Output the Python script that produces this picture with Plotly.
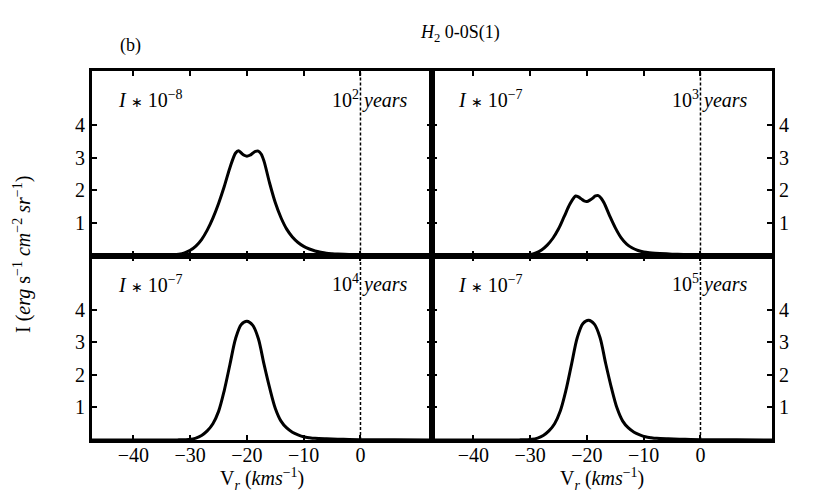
import plotly.graph_objects as go
from plotly.subplots import make_subplots

# ---- data ----
V_1E2 = [-47.3, -35, -34, -33, -32, -31, -30, -29, -28, -27, -26, -25, -24, -23, -22, -21.5, -21,
         -20.5, -20, -19.5, -19, -18.5, -18, -17.5, -17, -16, -15, -14, -13, -12, -11, -10, -9,
         -8, -7, -6, -5, -4, -2, 0, 4, 8, 12.6]
I_1E2 = [0, 0, 0.01, 0.02, 0.04, 0.08, 0.16, 0.29, 0.49, 0.78, 1.15, 1.6, 2.12, 2.7, 3.15, 3.22, 3.15,
         3.08, 3.05, 3.08, 3.14, 3.2, 3.21, 3.12, 2.9, 2.22, 1.62, 1.16, 0.81, 0.57, 0.4, 0.28, 0.2,
         0.14, 0.1, 0.07, 0.055, 0.045, 0.03, 0.02, 0.01, 0.005, 0]

V_1E3 = [-47.3, -33, -32, -31, -30, -29, -28, -27, -26, -25, -24, -23, -22, -21.5, -21, -20.5, -20,
         -19.5, -19, -18.5, -18, -17.5, -17, -16, -15, -14, -13, -12, -11, -10, -9, -8, -6, -4, -2,
         0, 4, 8, 12.6]
I_1E3 = [0, 0, 0.005, 0.015, 0.03, 0.08, 0.17, 0.32, 0.53, 0.82, 1.2, 1.58, 1.83, 1.8, 1.74, 1.68, 1.66,
         1.7, 1.76, 1.83, 1.84, 1.76, 1.62, 1.22, 0.85, 0.55, 0.35, 0.23, 0.155, 0.11, 0.085, 0.07, 0.05,
         0.035, 0.025, 0.02, 0.01, 0.005, 0]

V_1E4 = [-47.3, -33, -32, -31, -30, -29, -28, -27, -26, -25, -24, -23, -22, -21, -20, -19, -18, -17,
         -16, -15, -14, -13, -12, -11, -10, -9, -8, -6, -4, -2, 0, 6, 12.6]
I_1E4 = [0, 0, 0.005, 0.01, 0.02, 0.06, 0.14, 0.28, 0.5, 0.88, 1.52, 2.32, 3.12, 3.55, 3.65, 3.53, 3.12,
         2.33, 1.6, 0.97, 0.58, 0.37, 0.24, 0.16, 0.1, 0.07, 0.05, 0.035, 0.025, 0.015, 0.01, 0.005, 0]

V_1E5 = [-47.3, -32.7, -31.7, -30.7, -29.7, -28.7, -27.7, -26.7, -25.7, -24.7, -23.7, -22.7, -21.7,
         -20.7, -19.7, -18.7, -17.7, -16.7, -15.7, -14.7, -13.7, -12.7, -11.7, -10.7, -9.7, -8.7,
         -7.7, -5.7, -3.7, -1.7, 0.3, 6.3, 12.6]
I_1E5 = [0, 0, 0.005, 0.01, 0.02, 0.06, 0.14, 0.28, 0.5, 0.89, 1.53, 2.34, 3.15, 3.58, 3.68, 3.56, 3.15,
         2.35, 1.61, 0.98, 0.58, 0.37, 0.24, 0.16, 0.1, 0.07, 0.05, 0.035, 0.025, 0.015, 0.01, 0.005, 0]

AST = "<span style='font-size:14px'>∗</span>"
SCALE_LABELS = ["<i>I</i> " + AST + " 10<sup>−8</sup>", "<i>I</i> " + AST + " 10<sup>−7</sup>",
                "<i>I</i> " + AST + " 10<sup>−7</sup>", "<i>I</i> " + AST + " 10<sup>−7</sup>"]
AGE_LABELS = ["10<sup>2</sup> <i>years</i>", "10<sup>3</sup> <i>years</i>",
              "10<sup>4</sup> <i>years</i>", "10<sup>5</sup> <i>years</i>"]
X_TITLE = "V<sub><i>r</i></sub> (<i>kms</i><sup>−1</sup>)"
Y_TITLE = "I (<i>erg</i> s<sup>−1</sup> <i>cm</i><sup>−2</sup> <i>sr</i><sup>−1</sup>)"
X_TICKS = [-40, -30, -20, -10, 0]
Y_TICKS = [1, 2, 3, 4]
X_RANGE = [-47.3, 12.6]
Y_RANGE = [0, 5.67]
REF_V = 0

SERIES = [(V_1E2, I_1E2), (V_1E3, I_1E3), (V_1E4, I_1E4), (V_1E5, I_1E5)]
CELLS = [(1, 1), (1, 2), (2, 1), (2, 2)]

FONT = "Liberation Serif"
L, R, T, B = 92, 45, 71, 55
W, H = 817, 495
pw, ph = W - L - R, H - T - B


def px(x):
    return (x - L) / pw


def py(y):
    return 1 - (y - T) / ph


fig = make_subplots(rows=2, cols=2, horizontal_spacing=0, vertical_spacing=0)

for k, ((v, inten), (r, c)) in enumerate(zip(SERIES, CELLS)):
    fig.add_trace(go.Scatter(x=v, y=inten, mode="lines",
                             line=dict(color="black", width=3, shape="spline", smoothing=0.9),
                             showlegend=False, hoverinfo="skip"), row=r, col=c)
    fig.add_trace(go.Scatter(x=[REF_V, REF_V], y=Y_RANGE, mode="lines",
                             line=dict(color="black", width=1.5, dash="3px,2px"),
                             showlegend=False, hoverinfo="skip"), row=r, col=c)
    fig.add_annotation(text=SCALE_LABELS[k], x=-43.0, y=4.8, xanchor="left", yanchor="middle",
                       showarrow=False, font=dict(family=FONT, size=20, color="black"), row=r, col=c)
    fig.add_annotation(text=AGE_LABELS[k], x=8.7, y=4.8, xanchor="right", yanchor="middle",
                       showarrow=False, font=dict(family=FONT, size=20, color="black"), row=r, col=c)
    fig.update_xaxes(range=X_RANGE, tickvals=X_TICKS, ticks="inside", ticklen=5, tickwidth=1.5,
                     tickcolor="black", showline=True, linewidth=3, linecolor="black",
                     mirror="allticks", showgrid=False, zeroline=False, automargin=False,
                     ticklabelstandoff=-5,
                     showticklabels=(r == 2), tickfont=dict(family=FONT, size=20, color="black"),
                     row=r, col=c)
    fig.update_yaxes(range=Y_RANGE, tickvals=Y_TICKS, ticks="inside", ticklen=5, tickwidth=1.5,
                     tickcolor="black", showline=True, linewidth=3, linecolor="black",
                     mirror="allticks", showgrid=False, zeroline=False, automargin=False,
                     side=("left" if c == 1 else "right"),
                     tickfont=dict(family=FONT, size=20, color="black"), row=r, col=c)

# axis titles and free texts (pixel positions -> paper)
for xc in (262, 602):
    fig.add_annotation(text=X_TITLE, x=px(xc), y=py(479), xref="paper", yref="paper",
                       xanchor="center", yanchor="middle", showarrow=False,
                       font=dict(family=FONT, size=20, color="black"))
fig.add_annotation(text="<i>H</i><sub>2</sub> 0-0S(1)", x=px(460), y=py(33), xref="paper", yref="paper",
                   xanchor="center", yanchor="middle", showarrow=False,
                   font=dict(family=FONT, size=18, color="black"))
fig.add_annotation(text="(b)", x=px(130), y=py(45), xref="paper", yref="paper",
                   xanchor="center", yanchor="middle", showarrow=False,
                   font=dict(family=FONT, size=18, color="black"))
fig.add_annotation(text=Y_TITLE, textangle=-90, x=px(22), y=py(255), xref="paper", yref="paper",
                   xanchor="center", yanchor="middle", showarrow=False,
                   font=dict(family=FONT, size=20, color="black"))

fig.update_layout(width=W, height=H, margin=dict(l=L, r=R, t=T, b=B, autoexpand=False),
                  plot_bgcolor="white", paper_bgcolor="white",
                  font=dict(family=FONT, color="black"))

fig.write_html("out.html", config={"displayModeBar": False},
               post_script="document.body.style.margin='0';")
